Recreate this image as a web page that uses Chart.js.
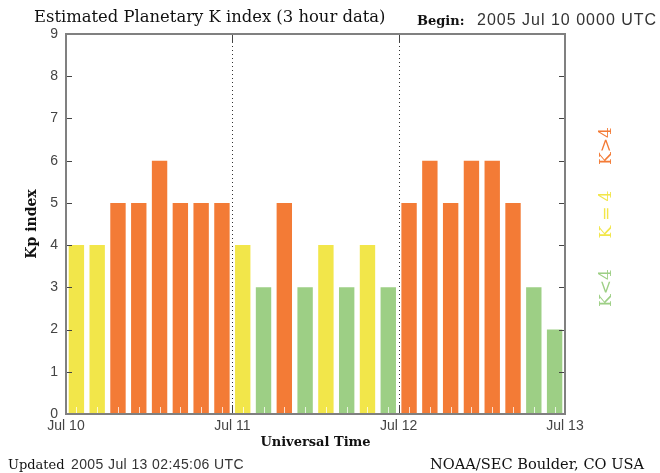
<!DOCTYPE html>
<html>
<head>
<meta charset="utf-8">
<script src="https://cdn.jsdelivr.net/npm/chart.js@4.4.1/dist/chart.umd.min.js"></script>
<style>
  body { margin: 0; background: #fff; }
  #wrap { position: relative; width: 660px; height: 473px; }
  .txt { position: absolute; white-space: nowrap; line-height: 1; color: #111; }
  .serif { font-family: "DejaVu Serif", serif; }
  .sans { font-family: "Liberation Sans", Arial, sans-serif; color: #333; }
  .klbl { position: absolute; white-space: nowrap; line-height: 1; font-family: "DejaVu Serif", serif; font-size: 17px; transform: translate(-50%, -50%) rotate(-90deg); }
</style>
</head>
<body>
<div id="wrap">
  <canvas id="kp" width="660" height="473"></canvas>
  <div class="txt serif" style="left:34px; top:9.2px; font-size:16.4px;">Estimated Planetary K index (3 hour data)</div>
  <div class="txt serif" style="left:417px; top:14px; font-size:13px; font-weight:bold;">Begin:</div>
  <div class="txt sans" style="left:477px; top:11.5px; font-size:16px; letter-spacing:1px;">2005 Jul 10 0000 UTC</div>
  <div class="txt serif" style="left:8px; top:458px; font-size:13px;">Updated</div>
  <div class="txt sans" style="left:71px; top:457px; font-size:14px; letter-spacing:0.4px;">2005 Jul 13 02:45:06 UTC</div>
  <div class="txt serif" style="left:430px; top:456.5px; font-size:14.6px;">NOAA/SEC Boulder, CO USA</div>
  <div id="legend"></div>
</div>
<script>
// Kp values, one per 3-hour period, Jul 10 00 UT to Jul 13 00 UT
const periods = [
    "10/00", "10/03", "10/06", "10/09", "10/12", "10/15", "10/18", "10/21",
    "11/00", "11/03", "11/06", "11/09", "11/12", "11/15", "11/18", "11/21",
    "12/00", "12/03", "12/06", "12/09", "12/12", "12/15", "12/18", "12/21"
];
const kpValues = [
    4, 4, 5, 5, 6, 5, 5, 5,
    4, 3, 5, 3, 4, 3, 4, 3,
    5, 6, 5, 6, 6, 5, 3, 2
];
const dayLabels = ["Jul 10", "Jul 11", "Jul 12", "Jul 13"];
const legendLabels = ["K>4", "K=4", "K<4"];

const ORANGE = "#f37b36";
const YELLOW = "#f2e64a";
const GREEN = "#9dcf85";

function kColor(k) {
    if (k > 4) return ORANGE;
    if (k === 4) return YELLOW;
    return GREEN;
}

// Right-hand colour key
const legendPos = [
    { y: 146, color: ORANGE, spacing: 0 },
    { y: 212, color: YELLOW, spacing: 5 },
    { y: 288, color: GREEN, spacing: 0 }
];
const legend = document.getElementById("legend");
legendLabels.forEach((t, i) => {
    const el = document.createElement("div");
    el.className = "klbl";
    el.textContent = t;
    el.style.left = "605px";
    el.style.top = legendPos[i].y + "px";
    el.style.color = legendPos[i].color;
    el.style.letterSpacing = legendPos[i].spacing + "px";
    legend.appendChild(el);
});

// Frame, dotted day lines and inner tick marks
const framePlugin = {
    id: "frame",
    afterDatasetsDraw(chart) {
        const { ctx, chartArea: a, scales } = chart;
        ctx.save();

        // small light ticks in the middle of each bar
        ctx.strokeStyle = "rgba(255,255,255,0.75)";
        ctx.lineWidth = 1;
        ctx.beginPath();
        periods.forEach((p, i) => {
            const x = Math.round(scales.x.getPixelForValue(i)) + 0.5;
            ctx.moveTo(x, a.bottom);
            ctx.lineTo(x, a.bottom - 7);
        });
        ctx.stroke();

        // dotted lines at day boundaries
        for (let d = 1; d < dayLabels.length - 1; d++) {
            const x = Math.round(scales.x2.getPixelForValue(d * 24)) + 0.5;
            ctx.strokeStyle = "#333";
            ctx.setLineDash([1, 3]);
            ctx.beginPath();
            ctx.moveTo(x, a.top);
            ctx.lineTo(x, a.bottom);
            ctx.stroke();
            ctx.setLineDash([]);
            ctx.strokeStyle = "#444";
            ctx.beginPath();
            ctx.moveTo(x, a.top);
            ctx.lineTo(x, a.top + 9);
            ctx.moveTo(x, a.bottom);
            ctx.lineTo(x, a.bottom - 9);
            ctx.stroke();
        }

        // y tick marks pointing inward on both sides
        ctx.strokeStyle = "#444";
        ctx.beginPath();
        for (let v = 1; v < 9; v++) {
            const y = Math.round(scales.y.getPixelForValue(v)) + 0.5;
            ctx.moveTo(a.left, y);
            ctx.lineTo(a.left + 6, y);
            ctx.moveTo(a.right, y);
            ctx.lineTo(a.right - 6, y);
        }
        ctx.stroke();

        // gray frame
        ctx.strokeStyle = "#808080";
        ctx.lineWidth = 2;
        ctx.strokeRect(a.left, a.top, a.right - a.left, a.bottom - a.top);
        ctx.restore();
    }
};

const ctx = document.getElementById("kp").getContext("2d");
new Chart(ctx, {
    type: "bar",
    data: {
        labels: periods,
        datasets: [{
            label: "Kp",
            data: kpValues,
            backgroundColor: kpValues.map(kColor),
            borderWidth: 0,
            barPercentage: 0.74,
            categoryPercentage: 1.0,
            xAxisID: "x",
            yAxisID: "y"
        }]
    },
    options: {
        responsive: false,
        animation: false,
        devicePixelRatio: 1,
        layout: { padding: { left: 0, right: 95, top: 34, bottom: 0 } },
        plugins: {
            legend: { display: false },
            tooltip: { enabled: false }
        },
        scales: {
            x: {
                display: false,
                offset: true
            },
            x2: {
                type: "linear",
                position: "bottom",
                offset: false,
                min: 0,
                max: 72,
                afterFit: s => { s.height = 59; },
                grid: { display: false, drawTicks: false, offset: false },
                border: { display: false },
                ticks: {
                    stepSize: 24,
                    autoSkip: false,
                    maxRotation: 0,
                    padding: 4,
                    color: "#444",
                    font: { family: "Liberation Sans", size: 14 },
                    callback: v => dayLabels[v / 24]
                },
                title: {
                    display: true,
                    text: "Universal Time",
                    color: "#111",
                    font: { family: "DejaVu Serif", size: 13, weight: "bold" },
                    padding: { top: 0, bottom: 23 }
                }
            },
            y: {
                min: 0,
                max: 9,
                afterFit: s => { s.width = 66; },
                grid: { display: false, drawTicks: false },
                border: { display: false },
                ticks: {
                    stepSize: 1,
                    padding: 8,
                    color: "#444",
                    font: { family: "Liberation Sans", size: 14 }
                },
                title: {
                    display: true,
                    text: "Kp index",
                    color: "#111",
                    font: { family: "DejaVu Serif", size: 14, weight: "bold" },
                    padding: { top: 24, bottom: 0 }
                }
            }
        }
    },
    plugins: [framePlugin]
});
</script>
</body>
</html>
